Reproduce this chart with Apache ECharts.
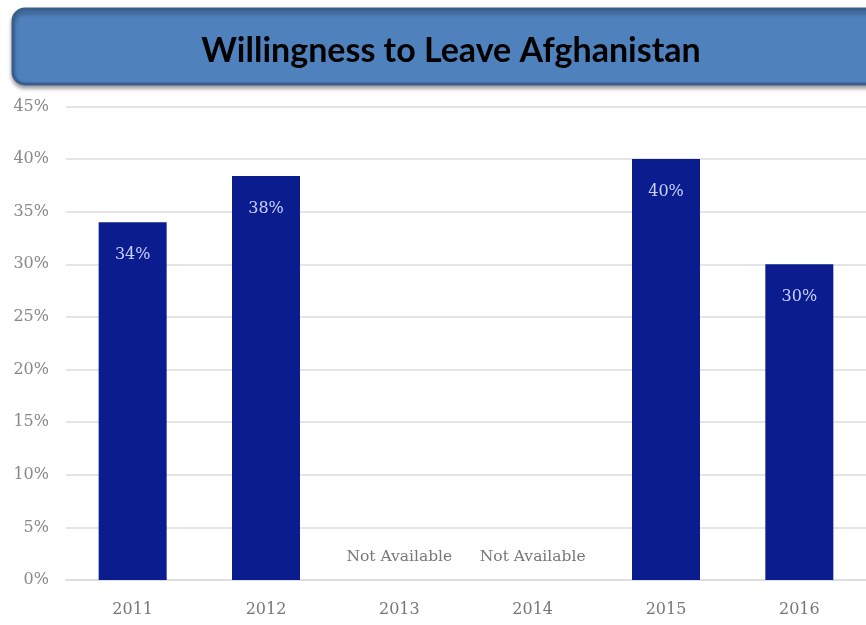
<!DOCTYPE html>
<html>
<head>
<meta charset="utf-8">
<script src="https://cdn.jsdelivr.net/npm/echarts@6/dist/echarts.min.js"></script>
<style>html,body{margin:0;padding:0;background:#fff;}#c{width:866px;height:625px;}</style>
</head>
<body>
<div id="c"></div>
<script>
var categories = ["2011", "2012", "2013", "2014", "2015", "2016"];
var values = [34, 38.4, null, null, 40, 30];
var missingText = "Not Available";
var yTicks = [0, 5, 10, 15, 20, 25, 30, 35, 40, 45];
var titleText = "Willingness to Leave Afghanistan";

var chart = echarts.init(document.getElementById('c'));
var serif = '"DejaVu Serif", "Liberation Serif", serif';
var data = values.map(function (v) {
  if (v === null) {
    return {
      value: 0,
      label: {
        show: true, position: 'top', distance: 15,
        formatter: missingText, color: '#777777', fontSize: 15.5, fontFamily: serif
      }
    };
  }
  return { value: v };
});
chart.setOption({
  animation: false,
  graphic: [{
    type: 'rect',
    shape: { x: 13, y: 9, width: 870, height: 75, r: 12 },
    style: { fill: '#4f81bd', stroke: '#3a5f8d', lineWidth: 3, shadowBlur: 4, shadowOffsetY: 3, shadowColor: 'rgba(0,0,0,0.35)' },
    z: 0
  }],
  title: {
    text: titleText,
    left: 446, top: 29, textAlign: 'center',
    textStyle: { fontFamily: 'Lato, "Open Sans", sans-serif', fontWeight: 'bold', fontSize: 34, color: '#000000' },
    z: 5
  },
  grid: { left: 66, width: 802, top: 106.5, bottom: 45, containLabel: false },
  xAxis: {
    type: 'category',
    data: categories,
    axisLine: { show: true, lineStyle: { color: '#dcdcdc', width: 1.5 } },
    axisTick: { show: false },
    axisLabel: { color: '#777777', fontSize: 16, fontFamily: serif, margin: 22 }
  },
  yAxis: {
    type: 'value',
    min: yTicks[0], max: yTicks[yTicks.length - 1], interval: 5,
    axisLine: { show: false },
    axisTick: { show: false },
    splitLine: { lineStyle: { color: '#dcdcdc', width: 1.5 } },
    axisLabel: { color: '#888888', fontSize: 16, fontFamily: serif, margin: 17, formatter: '{value}%' }
  },
  series: [{
    type: 'bar',
    data: data,
    barWidth: 68,
    itemStyle: { color: '#0a1c8e' },
    label: {
      show: true, position: 'insideTop', distance: 25,
      color: '#c9d2ff', fontSize: 16, fontFamily: serif,
      formatter: function (p) { return Math.round(p.value) + '%'; }
    }
  }]
});
</script>
</body>
</html>
